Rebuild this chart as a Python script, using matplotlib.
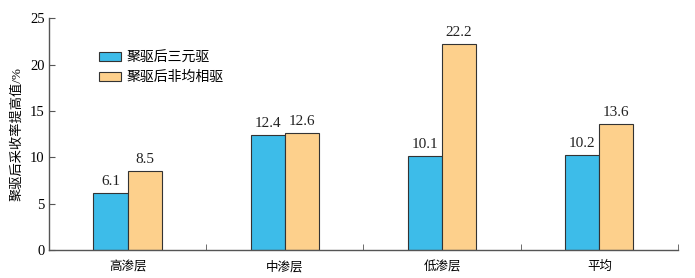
import matplotlib
matplotlib.use('Agg')
import matplotlib.pyplot as plt
import numpy as np

plt.rcParams['font.family'] = ['Liberation Serif', 'Noto Sans CJK SC']

categories = ['高渗层', '中渗层', '低渗层', '平均']
series_names = ['聚驱后三元驱', '聚驱后非均相驱']
ternary = [6.1, 12.4, 10.1, 10.2]
hetero = [8.5, 12.6, 22.2, 13.6]
colors = ['#3dbce9', '#fdd08c']

fig = plt.figure(figsize=(6.95, 2.78), dpi=100)
ax = fig.add_axes([0.0705, 0.1007, 0.905, 0.834])

x = np.arange(len(categories))
w = 0.217
b1 = ax.bar(x - w / 2, ternary, w, color=colors[0], edgecolor='#333333', linewidth=0.8, label=series_names[0])
b2 = ax.bar(x + w / 2, hetero, w, color=colors[1], edgecolor='#333333', linewidth=0.8, label=series_names[1])

for bars in (b1, b2):
    for bar in bars:
        h = bar.get_height()
        ax.text(bar.get_x() + bar.get_width() / 2, h + 0.55, f'{h:.1f}',
                ha='center', va='bottom', fontsize=11, color='#222222')

ax.set_xlim(-0.5, 3.5)
ax.set_ylim(0, 25)
ax.set_yticks([0, 5, 10, 15, 20, 25])
ax.set_xticks(x)
ax.set_xticklabels(categories, fontsize=9)
ax.set_xticks([0.5, 1.5, 2.5, 3.5], minor=True)
ax.tick_params(axis='x', which='major', length=0, pad=8)
ax.tick_params(axis='x', which='minor', direction='in', length=4, color='#555555')
ax.tick_params(axis='y', direction='in', length=4, labelsize=10.5, color='#555555', pad=3)
ax.set_ylabel('聚驱后采收率提高值/%', fontsize=9.5, labelpad=5)

for s in ('top', 'right'):
    ax.spines[s].set_visible(False)
for s in ('left', 'bottom'):
    ax.spines[s].set_color('#555555')
    ax.spines[s].set_linewidth(1.0)

ax.legend(loc='upper left', bbox_to_anchor=(0.06, 0.91), frameon=False, fontsize=10,
          handlelength=1.6, handleheight=0.6, labelspacing=0.45, handletextpad=0.35)

fig.savefig('out.png', dpi=100)
